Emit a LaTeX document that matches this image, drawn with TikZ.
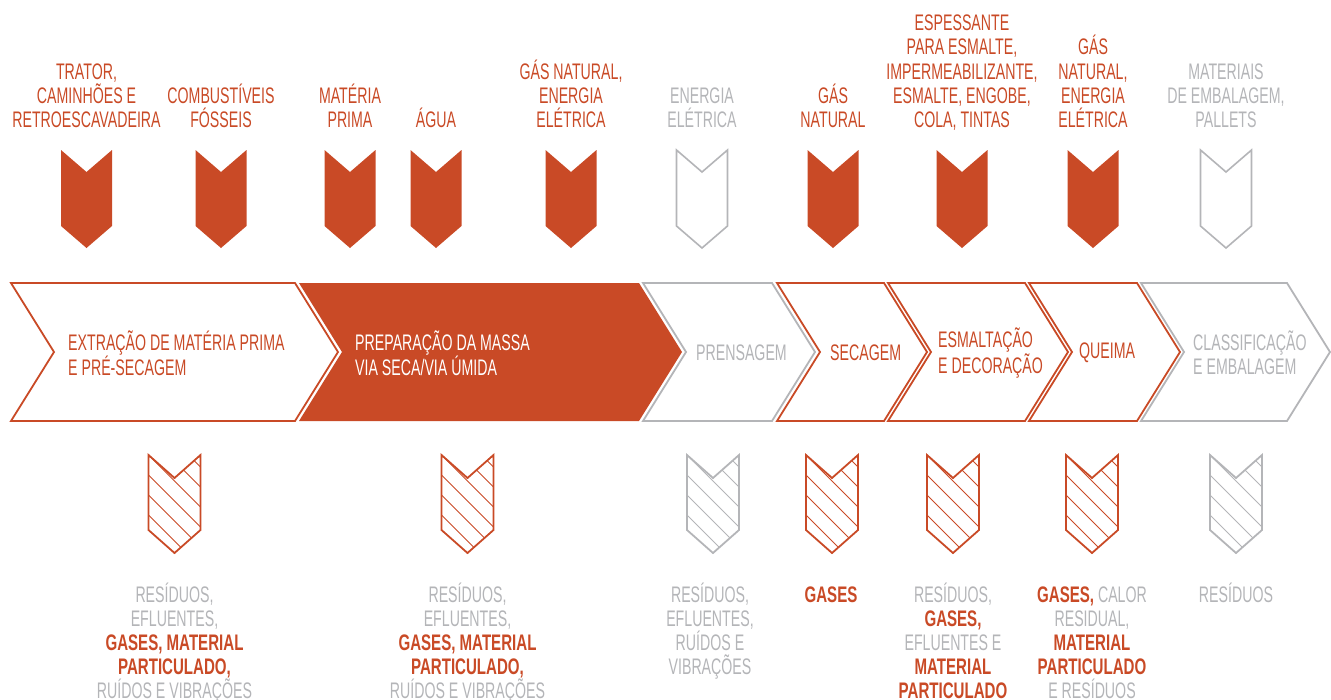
\documentclass[tikz,border=0pt]{standalone}
\usepackage{fontspec}
\setmainfont{Liberation Sans}[FakeStretch=0.63,BoldFeatures={FakeStretch=0.67}]
\definecolor{brick}{RGB}{201,74,38}
\definecolor{ash}{RGB}{180,181,184}
\newcommand{\hotword}[1]{{\bfseries\color{brick}#1}}

\begin{document}
\begin{tikzpicture}[x=1pt,y=-1pt,
    txt/.style={font=\fontsize{22.5}{24.2}\selectfont,inner sep=0pt},
    in label/.style={txt,align=center,anchor=base},
    stage label/.style={txt,align=left,anchor=west},
    out label/.style={txt,align=center,anchor=base,text=ash},
    in solid/.style={fill=brick},
    in hollow/.style={draw=ash,line width=1.6pt,fill=white},
    stage open/.style={draw=brick,line width=1.8pt,fill=white},
    stage solid/.style={fill=brick},
    stage grey/.style={draw=ash,line width=1.8pt,fill=white}]

  \useasboundingbox (0,0) rectangle (1331,699);

  % Input arrows
  \foreach \cx/\sty in {86.5/in solid,221/in solid,350/in solid,436/in solid,571/in solid,
                        702/in hollow,833/in solid,962/in solid,1093/in solid,1226/in hollow}
    \path[\sty] (\cx-25.5,150) -- (\cx,172) -- (\cx+25.5,150) -- (\cx+25.5,226)
                -- (\cx,248) -- (\cx-25.5,226) -- cycle;

  % Process stages
  \foreach \l/\r/\sty in {11/295/stage open,299/639/stage solid,643/772/stage grey,
                          777/884/stage open,888/1025/stage open,1029/1137/stage open,
                          1141/1287/stage grey}
    \path[\sty,line join=miter] (\l,283) -- (\r,283) -- (\r+43,352) -- (\r,421)
                -- (\l,421) -- (\l+43,352) -- cycle;

  % Output arrows (hatched)
  \foreach \cx/\col in {174.5/brick,467.5/brick,713/ash,832/brick,953/brick,1092/brick,1236/ash}{
    \begin{scope}
      \clip (\cx-26,455) -- (\cx,478) -- (\cx+26,455) -- (\cx+26,530)
            -- (\cx,553) -- (\cx-26,530) -- cycle;
      \foreach \k in {-40,-20,...,80}
        \draw[\col,line width=0.9pt] (\cx-26,455+\k) -- ++(120,120);
    \end{scope}
    \draw[\col,line width=1.8pt] (\cx-26,455) -- (\cx,478) -- (\cx+26,455) -- (\cx+26,530)
            -- (\cx,553) -- (\cx-26,530) -- cycle;
  }

  % Inputs (base = last line)
  \node[in label,text=brick] (in1) at (86.5,127.5) {TRATOR,\\CAMINHÕES E\\RETROESCAVADEIRA};
  \node[in label,text=brick] (in2) at (221,127.5) {COMBUSTÍVEIS\\FÓSSEIS};
  \node[in label,text=brick] (in3) at (350,127.5) {MATÉRIA\\PRIMA};
  \node[in label,text=brick] (in4) at (436,127.5) {ÁGUA};
  \node[in label,text=brick] (in5) at (571,127.5) {GÁS NATURAL,\\ENERGIA\\ELÉTRICA};
  \node[in label,text=ash] (in6) at (702,127.5) {ENERGIA\\ELÉTRICA};
  \node[in label,text=brick] (in7) at (833,127.5) {GÁS\\NATURAL};
  \node[in label,text=brick] (in8) at (962,127.5) {ESPESSANTE\\PARA ESMALTE,\\IMPERMEABILIZANTE,\\ESMALTE, ENGOBE,\\COLA, TINTAS};
  \node[in label,text=brick] (in9) at (1093,127.5) {GÁS\\NATURAL,\\ENERGIA\\ELÉTRICA};
  \node[in label,text=ash] (in10) at (1226,127.5) {MATERIAIS\\DE EMBALAGEM,\\PALLETS};

  % Stages
  \node[stage label,text=brick] (s1) at (68,353) {EXTRAÇÃO DE MATÉRIA PRIMA\\E PRÉ-SECAGEM};
  \node[stage label,text=white] (s2) at (355,353) {PREPARAÇÃO DA MASSA\\VIA SECA/VIA ÚMIDA};
  \node[stage label,text=ash] (s3) at (696,353) {PRENSAGEM};
  \node[stage label,text=brick] (s4) at (830,353) {SECAGEM};
  \node[stage label,text=brick] (s5) at (938,353) {ESMALTAÇÃO\\E DECORAÇÃO};
  \node[stage label,text=brick] (s6) at (1079,353) {QUEIMA};
  \node[stage label,text=ash] (s7) at (1193,353) {CLASSIFICAÇÃO\\E EMBALAGEM};

  % Outputs (base = last line)
  \node[out label] (out1) at (174.5,698.8) {RESÍDUOS,\\EFLUENTES,\\\hotword{GASES, MATERIAL}\\\hotword{PARTICULADO,}\\RUÍDOS E VIBRAÇÕES};
  \node[out label] (out2) at (467.5,698.8) {RESÍDUOS,\\EFLUENTES,\\\hotword{GASES, MATERIAL}\\\hotword{PARTICULADO,}\\RUÍDOS E VIBRAÇÕES};
  \node[out label] (out3) at (710,674.6) {RESÍDUOS,\\EFLUENTES,\\RUÍDOS E\\VIBRAÇÕES};
  \node[out label] (out4) at (831,602) {\hotword{GASES}};
  \node[out label] (out5) at (953,698.8) {RESÍDUOS,\\\hotword{GASES,}\\EFLUENTES E\\\hotword{MATERIAL}\\\hotword{PARTICULADO}};
  \node[out label] (out6) at (1092,698.8) {\hotword{GASES,} CALOR\\RESIDUAL,\\\hotword{MATERIAL}\\\hotword{PARTICULADO}\\E RESÍDUOS};
  \node[out label] (out7) at (1236,602) {RESÍDUOS};

\end{tikzpicture}
\end{document}
